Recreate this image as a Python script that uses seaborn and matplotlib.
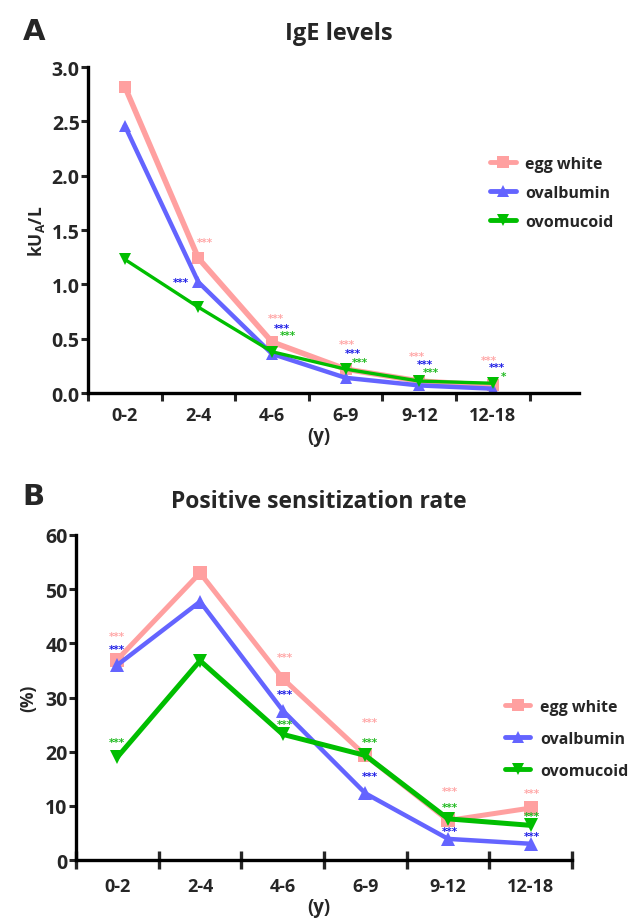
# IgE levels and sensitization rate by age group (egg allergens)

import pandas as pd
import matplotlib.pyplot as plt
import seaborn as sns
from matplotlib.lines import Line2D

# ---- data ----
age_groups = ["0-2", "2-4", "4-6", "6-9", "9-12", "12-18"]
allergens = ["egg white", "ovalbumin", "ovomucoid"]

ige_egg_white = [2.82, 1.24, 0.47, 0.22, 0.11, 0.07]
ige_ovalbumin = [2.46, 1.02, 0.36, 0.14, 0.07, 0.04]
ige_ovomucoid = [1.23, 0.79, 0.38, 0.22, 0.11, 0.09]

rate_egg_white = [37.0, 53.0, 33.5, 19.3, 7.3, 9.6]
rate_ovalbumin = [36.0, 47.7, 27.6, 12.3, 3.9, 3.0]
rate_ovomucoid = [19.0, 36.8, 23.2, 19.3, 7.6, 6.4]

# significance labels: (allergen, label)
sig_labels_a = [("egg white", "***"), ("ovalbumin", "***"),
                ("egg white", "***"), ("ovalbumin", "***"), ("ovomucoid", "***"),
                ("egg white", "***"), ("ovalbumin", "***"), ("ovomucoid", "***"),
                ("egg white", "***"), ("ovalbumin", "***"), ("ovomucoid", "***"),
                ("egg white", "***"), ("ovalbumin", "***"), ("ovomucoid", "*")]
sig_labels_b = [("egg white", "***"), ("ovalbumin", "***"), ("ovomucoid", "***"),
                ("egg white", "***"), ("ovalbumin", "***"), ("ovomucoid", "***"),
                ("egg white", "***"), ("ovomucoid", "***"), ("ovalbumin", "***"),
                ("egg white", "***"), ("ovomucoid", "***"), ("ovalbumin", "***"),
                ("egg white", "***"), ("ovomucoid", "***"), ("ovalbumin", "***")]

# where the star labels sit (data coords)
sig_pos_a = [(1.09, 1.39), (0.76, 1.02),
             (2.05, 0.69), (2.13, 0.60), (2.22, 0.53),
             (3.02, 0.45), (3.10, 0.37), (3.19, 0.29),
             (3.97, 0.34), (4.07, 0.27), (4.16, 0.19),
             (4.95, 0.30), (5.06, 0.24), (5.14, 0.16)]
sig_pos_b = [(0.0, 41.3), (0.0, 39.0), (0.0, 21.7),
             (2.02, 37.4), (2.02, 30.7), (2.02, 25.2),
             (3.05, 25.4), (3.05, 21.7), (3.05, 15.5),
             (4.02, 12.7), (4.02, 9.8), (4.02, 5.3),
             (5.01, 12.3), (5.01, 8.1), (5.01, 4.4)]

# ---- style ----
sns.set_style("white")
plt.rcParams["font.family"] = ["Open Sans", "DejaVu Sans"]
plt.rcParams["font.weight"] = "bold"
plt.rcParams["mathtext.fontset"] = "custom"
plt.rcParams["mathtext.bf"] = "Open Sans:bold"
plt.rcParams["mathtext.rm"] = "Open Sans:bold"

colors = {"egg white": "#FFA0A0", "ovalbumin": "#6464FF", "ovomucoid": "#00BE00"}
star_colors = {"egg white": "#FFA8A8", "ovalbumin": "#1E1EE6", "ovomucoid": "#22BB22"}
markers = {"egg white": "s", "ovalbumin": "^", "ovomucoid": "v"}


def long_table(values):
    rows = []
    for name, vals in zip(allergens, values):
        for i, v in enumerate(vals):
            rows.append({"pos": i, "age": age_groups[i], "allergen": name, "value": v})
    return pd.DataFrame(rows)


df_a = long_table([ige_egg_white, ige_ovalbumin, ige_ovomucoid])
df_b = long_table([rate_egg_white, rate_ovalbumin, rate_ovomucoid])

fig = plt.figure(figsize=(6.41, 9.2), dpi=100)
ax_a = fig.add_axes([0.1373, 0.5717, 0.766, 0.3543])
ax_b = fig.add_axes([0.1186, 0.0641, 0.774, 0.3533])


def draw_panel(ax, df, widths, sizes):
    for name in allergens:
        sub = df[df["allergen"] == name]
        sns.lineplot(data=sub, x="pos", y="value", color=colors[name],
                     marker=markers[name], markersize=sizes[name],
                     markeredgewidth=0, lw=widths[name], ax=ax, legend=False)
    ax.set_xticks(range(len(age_groups)))
    ax.set_xticklabels(age_groups, fontsize=13, fontweight="bold")
    ax.set_xticks([i - 0.5 for i in range(len(age_groups) + 1)], minor=True)
    ax.set_xlabel("(y)", fontsize=13.5, fontweight="bold")
    for s in ["top", "right"]:
        ax.spines[s].set_visible(False)
    for s in ["left", "bottom"]:
        ax.spines[s].set_linewidth(2.4)
        ax.spines[s].set_color("black")
    ax.tick_params(axis="y", which="major", direction="out", length=5, width=2.2,
                   labelsize=14, pad=1, left=True)
    for lab in ax.get_yticklabels():
        lab.set_fontweight("bold")


# panel A
draw_panel(ax_a, df_a,
           {"egg white": 4.0, "ovalbumin": 3.2, "ovomucoid": 2.4},
           {"egg white": 9, "ovalbumin": 9, "ovomucoid": 9})
ax_a.set_xlim(-0.5, 6.17)
ax_a.set_ylim(0, 3.0)
ax_a.set_yticks([0, 0.5, 1.0, 1.5, 2.0, 2.5, 3.0])
ax_a.set_yticklabels(["0.0", "0.5", "1.0", "1.5", "2.0", "2.5", "3.0"], fontweight="bold")
ax_a.tick_params(axis="x", which="major", length=0, pad=9)
ax_a.tick_params(axis="x", which="minor", direction="out", length=6, width=2.2, bottom=True)
ax_a.set_ylabel(r"kU$_\mathbf{A}$/L", fontsize=12.5, fontweight="bold", labelpad=3)
ax_a.xaxis.set_label_coords(0.47, -0.1)
ax_a.set_title("IgE levels", fontsize=17, fontweight="bold", pad=20, x=0.51)

for (name, lab), (x, y) in zip(sig_labels_a, sig_pos_a):
    ax_a.text(x, y, lab, color=star_colors[name], fontsize=7.5, ha="center",
              va="center", family="DejaVu Sans")

# panel B
draw_panel(ax_b, df_b,
           {"egg white": 3.6, "ovalbumin": 3.2, "ovomucoid": 3.6},
           {"egg white": 10, "ovalbumin": 10, "ovomucoid": 10})
ax_b.set_xlim(-0.5, 5.5)
ax_b.set_ylim(0, 60)
ax_b.set_yticks([0, 10, 20, 30, 40, 50, 60])
ax_b.set_yticklabels(["0", "10", "20", "30", "40", "50", "60"], fontweight="bold")
ax_b.tick_params(axis="x", which="major", length=0, pad=12)
ax_b.tick_params(axis="x", which="minor", direction="inout", length=13, width=2.4, bottom=True)
ax_b.set_ylabel("(%)", fontsize=12.5, fontweight="bold", labelpad=6)
ax_b.xaxis.set_label_coords(0.49, -0.115)
ax_b.set_title("Positive sensitization rate", fontsize=16.5, fontweight="bold", pad=20, x=0.49)

for (name, lab), (x, y) in zip(sig_labels_b, sig_pos_b):
    ax_b.text(x, y, lab, color=star_colors[name], fontsize=7.5, ha="center",
              va="center", family="DejaVu Sans")

# legends
handles = [Line2D([], [], color=colors[n], marker=markers[n], lw=3.5,
                  markersize=8, markeredgewidth=0) for n in allergens]
fig.legend(handles, allergens, loc="upper left", bbox_to_anchor=(0.742, 0.845),
           frameon=False, prop={"size": 11.5, "weight": "bold"}, handlelength=1.6,
           labelspacing=0.8, handletextpad=0.6)
fig.legend(handles, allergens, loc="upper left", bbox_to_anchor=(0.765, 0.255),
           frameon=False, prop={"size": 11.5, "weight": "bold"}, handlelength=1.6,
           labelspacing=1.0, handletextpad=0.6)

# panel letters
fig.text(0.035, 0.965, "A", fontsize=21, fontweight="bold", va="center", family="DejaVu Sans")
fig.text(0.035, 0.460, "B", fontsize=21, fontweight="bold", va="center", family="DejaVu Sans")

fig.savefig("out.png", dpi=100)
plt.close()
